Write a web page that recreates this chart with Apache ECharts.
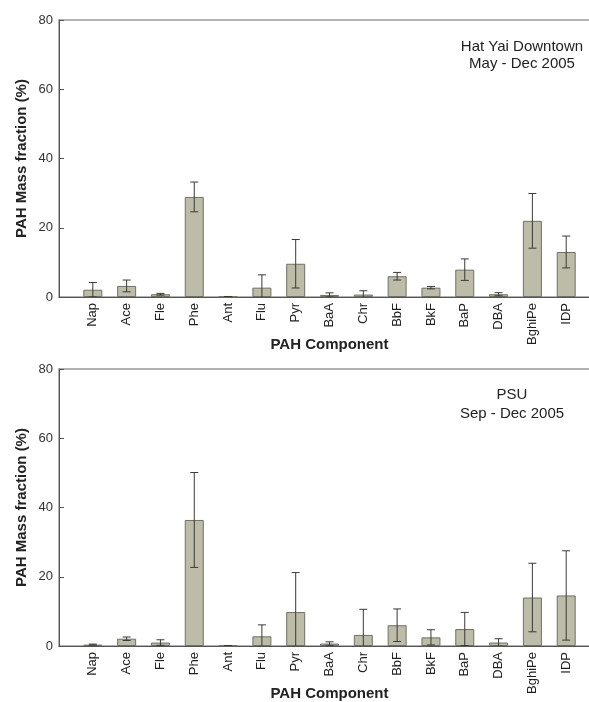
<!DOCTYPE html>
<html>
<head>
<meta charset="utf-8">
<script src="https://cdn.jsdelivr.net/npm/echarts@6/dist/echarts.min.js"></script>
<style>
  html, body { margin: 0; padding: 0; background: #fff; }
  #chart { width: 589px; height: 702px; }
</style>
</head>
<body>
<div id="chart"></div>
<script>
// PAH components on the x axis
const components = ['Nap', 'Ace', 'Fle', 'Phe', 'Ant', 'Flu', 'Pyr', 'BaA', 'Chr', 'BbF', 'BkF', 'BaP', 'DBA', 'BghiPe', 'IDP'];

// Hat Yai Downtown, May - Dec 2005: mean mass fraction (%) and error (±)
const hatYaiMean = [2.1, 3.2, 0.8, 28.9, 0.1, 2.7, 9.6, 0.6, 0.7, 6.0, 2.7, 7.9, 0.8, 22.0, 13.0];
const hatYaiErr  = [2.1, 1.7, 0.25, 4.3, 0.05, 3.7, 7.0, 0.6, 1.1, 1.1, 0.35, 3.1, 0.45, 7.9, 4.6];

// PSU, Sep - Dec 2005
const psuMean = [0.4, 2.1, 1.0, 36.4, 0.1, 2.8, 9.8, 0.7, 3.2, 6.0, 2.5, 4.9, 1.0, 14.0, 14.6];
const psuErr  = [0.15, 0.5, 0.8, 13.7, 0.05, 3.3, 11.4, 0.5, 7.4, 4.7, 2.2, 4.8, 1.1, 9.9, 12.9];

// y axis ticks
const yTicks = [0, 20, 40, 60, 80];

const FONT = 'Liberation Sans, Arial, sans-serif';

// padded category list: an empty slot at each end keeps the bars off the frame
const xCats = [''].concat(components, ['']);
const pad = arr => ['-'].concat(arr, ['-']);

function errorData(mean, err) {
  return mean.map((m, i) => [i + 1, m, err[i]]);
}

function renderError(params, api) {
  const x = api.value(0), m = api.value(1), e = api.value(2);
  const top = api.coord([x, m + e]);
  const bot = api.coord([x, m - e]);
  const cap = 4;
  const style = { stroke: '#3a3a36', lineWidth: 1 };
  return {
    type: 'group',
    children: [
      { type: 'line', shape: { x1: top[0], y1: top[1], x2: bot[0], y2: bot[1] }, style },
      { type: 'line', shape: { x1: top[0] - cap, y1: top[1], x2: top[0] + cap, y2: top[1] }, style },
      { type: 'line', shape: { x1: bot[0] - cap, y1: bot[1], x2: bot[0] + cap, y2: bot[1] }, style }
    ]
  };
}

function xAxisFor(gridIndex) {
  return {
    type: 'category',
    gridIndex,
    data: xCats,
    boundaryGap: false,
    axisLine: { lineStyle: { color: '#555', width: 1 } },
    axisTick: { show: false },
    axisLabel: { interval: 0, rotate: 90, margin: 6, fontFamily: FONT, fontSize: 13, color: '#222' },
    name: 'PAH Component',
    nameLocation: 'middle',
    nameGap: 40,
    nameMoveOverlap: false,
    nameTextStyle: { fontFamily: FONT, fontSize: 15, fontWeight: 'bold', color: '#222' }
  };
}

function yAxisFor(gridIndex) {
  return {
    type: 'value',
    gridIndex,
    min: yTicks[0],
    max: yTicks[yTicks.length - 1],
    interval: yTicks[1] - yTicks[0],
    splitLine: { show: false },
    axisLine: { show: true, lineStyle: { color: '#555', width: 1 } },
    axisTick: { show: true, inside: true, length: 5, lineStyle: { color: '#555' } },
    axisLabel: { margin: 6, fontFamily: FONT, fontSize: 13, color: '#333' },
    name: 'PAH Mass fraction (%)',
    nameLocation: 'middle',
    nameGap: 30,
    nameMoveOverlap: false,
    nameTextStyle: { fontFamily: FONT, fontSize: 15, fontWeight: 'bold', color: '#222' }
  };
}

const barStyle = { color: '#bcbca8', borderColor: '#707066', borderWidth: 1 };

const gridBase = {
  left: 59, width: 541, height: 277,
  show: true, borderColor: '#999', borderWidth: 1.5, backgroundColor: 'transparent',
  containLabel: false, outerBoundsMode: 'none'
};

const chart = echarts.init(document.getElementById('chart'), null, { renderer: 'canvas' });
chart.setOption({
  animation: false,
  backgroundColor: '#fff',
  grid: [
    Object.assign({ top: 20 }, gridBase),
    Object.assign({ top: 369 }, gridBase)
  ],
  xAxis: [xAxisFor(0), xAxisFor(1)],
  yAxis: [yAxisFor(0), yAxisFor(1)],
  series: [
    { type: 'bar', xAxisIndex: 0, yAxisIndex: 0, data: pad(hatYaiMean), barWidth: 19, itemStyle: barStyle },
    { type: 'custom', xAxisIndex: 0, yAxisIndex: 0, data: errorData(hatYaiMean, hatYaiErr), renderItem: renderError, clip: true, z: 3 },
    { type: 'bar', xAxisIndex: 1, yAxisIndex: 1, data: pad(psuMean), barWidth: 19, itemStyle: barStyle },
    { type: 'custom', xAxisIndex: 1, yAxisIndex: 1, data: errorData(psuMean, psuErr), renderItem: renderError, clip: true, z: 3 }
  ],
  graphic: [
    { type: 'text', x: 522, y: 38, style: { text: 'Hat Yai Downtown\nMay - Dec 2005', textAlign: 'center', font: '15px ' + FONT, fill: '#222', lineHeight: 17 } },
    { type: 'text', x: 512, y: 385, style: { text: 'PSU\nSep - Dec 2005', textAlign: 'center', font: '15px ' + FONT, fill: '#222', lineHeight: 19 } }
  ]
});
</script>
</body>
</html>
